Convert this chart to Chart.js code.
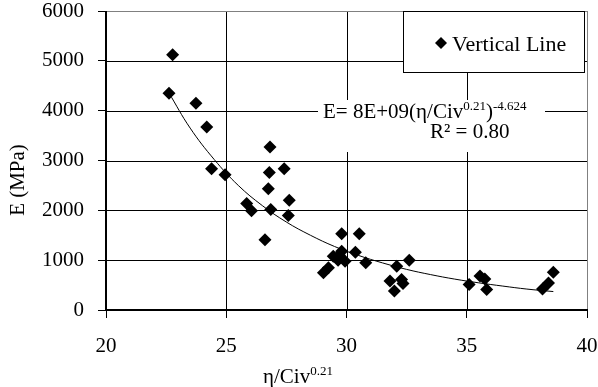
<!DOCTYPE html>
<html>
<head>
<meta charset="utf-8">
<script src="https://cdn.jsdelivr.net/npm/chart.js@4/dist/chart.umd.min.js"></script>
<style>
  body { margin: 0; background: #fff; }
</style>
</head>
<body>
<canvas id="grafikoa" width="598" height="387"></canvas>
<script>
// measured points (eta/Civ^0.21, E in MPa)
const etaValues = [22.77, 22.62, 23.74, 24.19, 24.39, 24.95, 26.82, 26.79, 27.41, 26.75,
  27.62, 26.85, 27.58, 25.85, 26.05, 26.61, 29.80, 30.53, 30.37, 30.80,
  29.04, 29.25, 29.45, 29.65, 29.80, 29.94, 29.70, 32.09, 32.61, 31.81,
  31.99, 32.29, 32.35, 35.10, 35.55, 35.75, 35.83, 38.15, 38.40, 38.60];
const modulusValues = [5120, 4350, 4150, 3670, 2835, 2715, 3270, 2760, 2835, 2435,
  2200, 2015, 1895, 2135, 1990, 1410, 1530, 1530, 1160, 950,
  750, 850, 1080, 1000, 1180, 980, 1100, 880, 1000, 580,
  380, 610, 530, 510, 680, 620, 410, 420, 540, 760];

// power trendline as drawn in the picture
const trendX = [22.6, 23.5, 24.5, 25.5, 26.5, 27.5, 28.5, 29.5, 30.5, 31.5, 32.5, 33.5, 34.5, 35.5, 36.5, 37.5, 38.6];
const trendY = [4370, 3650, 3020, 2500, 2095, 1765, 1500, 1275, 1095, 945, 815, 710, 620, 545, 480, 420, 370];

const xTicks = [20, 25, 30, 35, 40];
const yTicks = [0, 1000, 2000, 3000, 4000, 5000, 6000];

const serif = 'Liberation Serif';

const pairs = (xs, ys) => xs.map((x, i) => ({ x: x, y: ys[i] }));

// text with superscripts: parts = [[text, isSup], ...]
function drawRich(ctx, parts, x, y, size) {
  for (const [t, sup] of parts) {
    ctx.font = (sup ? size * 0.62 : size) + 'px "' + serif + '"';
    ctx.fillText(t, x, sup ? y - size * 0.36 : y);
    x += ctx.measureText(t).width;
  }
}
function richWidth(ctx, parts, size) {
  let w = 0;
  for (const [t, sup] of parts) {
    ctx.font = (sup ? size * 0.62 : size) + 'px "' + serif + '"';
    w += ctx.measureText(t).width;
  }
  return w;
}

const overlay = {
  id: 'overlay',
  afterDraw(chart) {
    const ctx = chart.ctx;
    const a = chart.chartArea;
    const L = Math.round(a.left), T = Math.round(a.top), R = Math.round(a.right), B = Math.round(a.bottom);
    ctx.save();
    ctx.setTransform(1, 0, 0, 1, 0, 0);
    ctx.globalAlpha = 1;
    ctx.globalCompositeOperation = 'source-over';
    ctx.filter = 'none';

    // grid lines at the scales' tick positions (black, so marks stay black on top)
    ctx.fillStyle = '#000';
    yTicks.slice(1, -1).forEach(v => {
      const y = Math.round(chart.scales.y.getPixelForValue(v));
      ctx.fillRect(L, y, R - L, 1);
    });
    xTicks.slice(1, -1).forEach(v => {
      const x = Math.round(chart.scales.x.getPixelForValue(v));
      ctx.fillRect(x, T, 1, B - T);
    });
    // grey frame on top and right
    ctx.fillStyle = '#808080';
    ctx.fillRect(L, T, R - L + 1, 1);
    ctx.fillRect(R, T, 1, B - T);
    // heavier axis lines
    ctx.fillStyle = '#000';
    ctx.fillRect(L - 1, T, 2, B - T + 1);
    ctx.fillRect(L - 1, B - 1, R - L + 2, 2);

    ctx.textBaseline = 'alphabetic';
    ctx.textAlign = 'left';

    // legend box
    ctx.fillStyle = '#fff';
    ctx.fillRect(403, 11, 182, 62);
    ctx.fillStyle = '#000';
    ctx.fillRect(403, 11, 182, 1);
    ctx.fillRect(403, 72, 182, 1);
    ctx.fillRect(403, 11, 1, 62);
    ctx.fillRect(584, 11, 1, 62);
    ctx.beginPath();
    ctx.moveTo(441, 37); ctx.lineTo(447, 43); ctx.lineTo(441, 49); ctx.lineTo(435, 43);
    ctx.closePath(); ctx.fill();
    ctx.font = '22px "' + serif + '"';
    ctx.fillText('Vertical Line', 452, 51);

    // trendline label
    ctx.fillStyle = '#fff';
    ctx.fillRect(318, 100, 227, 52);
    ctx.fillStyle = '#000';
    drawRich(ctx, [['E= 8E+09(η/Civ', false], ['0.21', true], [')', false], ['-4.624', true]], 323, 118, 21);
    drawRich(ctx, [['R² = 0.80', false]], 430, 138, 21);

    // axis titles
    const xt = [['η/Civ', false], ['0.21', true]];
    drawRich(ctx, xt, 298 - richWidth(ctx, xt, 21) / 2, 383, 21);
    ctx.translate(24, 180);
    ctx.rotate(-Math.PI / 2);
    ctx.font = '21px "' + serif + '"';
    ctx.textAlign = 'center';
    ctx.fillText('E (MPa)', 0, 0);
    ctx.restore();
  }
};

const config = {
  type: 'scatter',
  data: {
    datasets: [
      {
        label: 'Vertical Line',
        data: pairs(etaValues, modulusValues),
        pointStyle: 'rectRot',
        pointRadius: 6.5,
        pointHoverRadius: 6.5,
        backgroundColor: '#000',
        borderColor: '#000',
        borderWidth: 0,
      },
      {
        label: 'trend',
        type: 'line',
        data: pairs(trendX, trendY),
        borderColor: '#000',
        borderWidth: 1,
        pointRadius: 0,
        fill: false,
        tension: 0.4,
      }
    ]
  },
  options: {
    responsive: false,
    animation: false,
    events: [],
    layout: { padding: { top: 11, right: 11, left: 0, bottom: 0 } },
    plugins: {
      legend: { display: false },
      tooltip: { enabled: false }
    },
    scales: {
      x: {
        type: 'linear',
        min: 20, max: 40,
        afterBuildTicks: (s) => { s.ticks = xTicks.map(v => ({ value: v })); },
        afterFit: (s) => { s.height = 77; s.paddingLeft = 0; s.paddingRight = 0; },
        ticks: {
          color: '#000', padding: 18,
          font: { family: serif, size: 21, lineHeight: 1 },
          callback: (v) => String(v)
        },
        grid: { color: '#000', drawOnChartArea: false }
      },
      y: {
        type: 'linear',
        min: 0, max: 6000,
        afterBuildTicks: (s) => { s.ticks = yTicks.map(v => ({ value: v })); },
        afterFit: (s) => { s.width = 106; s.paddingTop = 0; s.paddingBottom = 0; },
        ticks: {
          color: '#000', padding: 14,
          font: { family: serif, size: 21, lineHeight: 1 },
          callback: (v) => String(v)
        },
        grid: { color: '#000', drawOnChartArea: false }
      }
    }
  },
  plugins: [overlay]
};

new Chart(document.getElementById('grafikoa'), config);
</script>
</body>
</html>
